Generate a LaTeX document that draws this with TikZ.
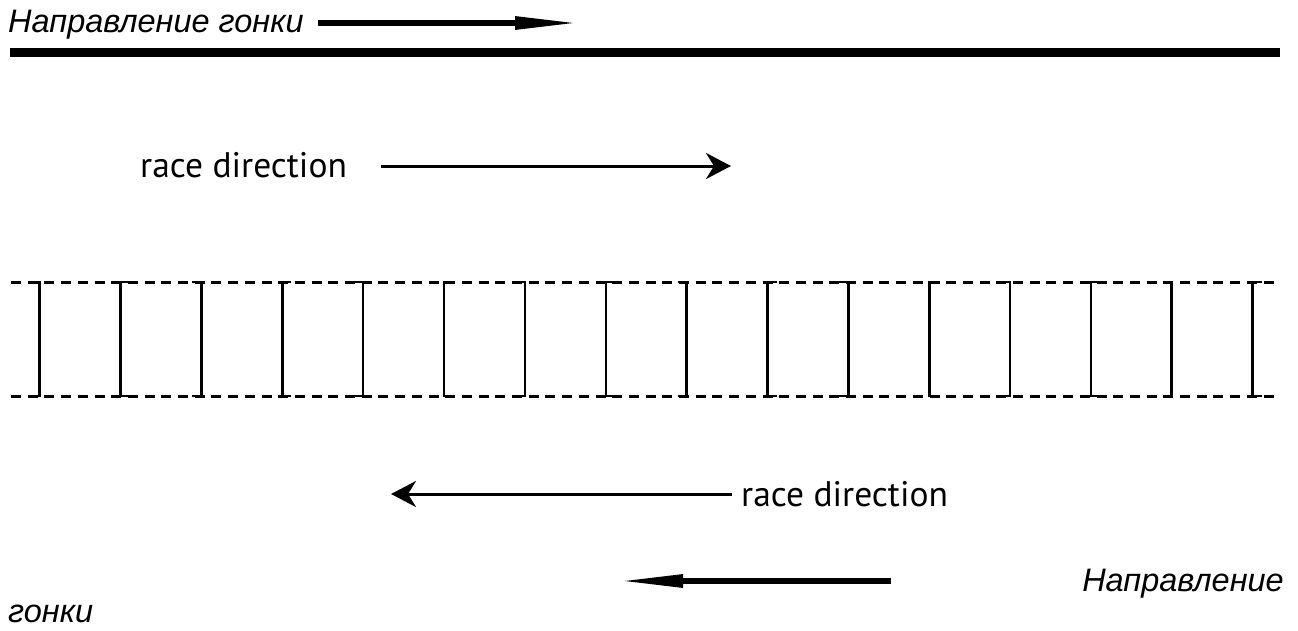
\documentclass[tikz,border=0pt]{standalone}
\usepackage{fontspec}
\usepackage{tikz}
\usetikzlibrary{arrows.meta}
\newfontfamily\rufont{Liberation Sans}
\newfontfamily\enfont{PT Sans}
\tikzstyle{rulabel} = [font=\rufont\itshape\fontsize{32.5}{38}\selectfont, inner sep=0pt]
\tikzstyle{enlabel} = [font=\enfont\fontsize{35.5}{42}\selectfont, inner sep=0pt]
\tikzstyle{fatarrow} = [line width=6pt, -{Triangle[length=66pt, width=12pt]}]
\tikzstyle{thinarrow} = [line width=3pt, -{Stealth[length=25pt, width=26pt, inset=8pt]}]
\tikzstyle{lane} = [line width=3pt, dash pattern=on 10pt off 6.7pt]
\tikzstyle{bracket} = [line width=2.6pt]

\begin{document}
\begin{tikzpicture}[x=1pt, y=-1pt]
			\useasboundingbox (0,0) rectangle (1298,630);
			
			% top label and track border
			\node[rulabel, anchor=base west](dirtop) at (8,32){Направление гонки};
			\coordinate(ftop1) at (318,23);
			\coordinate(ftop2) at (581,23);
			\draw[fatarrow](ftop1) -- (ftop2);
			\draw[line width=8.5pt] (10,52.5) -- (1280,52.5);
			
			% upper race direction
			\node[enlabel, anchor=base west](racetop) at (140,177){race direction};
			\coordinate(rtop2) at (731,166);
			\draw[thinarrow]([xshift=34pt]racetop.east |- rtop2) -- (rtop2);
			
			% lanes with boxes
			\draw[lane] (11,282) -- (1280,282);
			\draw[lane] (11,396) -- (1280,396);
			\foreach \i in {0,...,7}{
				\pgfmathsetmacro{\xl}{120.7+161.7*\i}
				\pgfmathsetmacro{\xr}{39.7+161.7*\i}
				\draw[bracket] (\xl+9,282) -- (\xl,282) -- (\xl,396) -- (\xl+9,396);
				\draw[bracket] (\xr-9,282) -- (\xr,282) -- (\xr,396) -- (\xr-9,396);
			}
			
			% lower race direction
			\node[enlabel, anchor=base west](racebot) at (741,506){race direction};
			\coordinate(rbot2) at (391,494);
			\draw[thinarrow]([xshift=-9pt]racebot.west |- rbot2) -- (rbot2);
			
			% bottom label
			\coordinate(fbot1) at (891,581);
			\coordinate(fbot2) at (617,581);
			\draw[fatarrow](fbot1) -- (fbot2);
			\node[rulabel, anchor=base east](dirbot1) at (1284,591){Направление};
			\node[rulabel, anchor=base west](dirbot2) at (8,622){гонки};
		\end{tikzpicture}
\end{document}
